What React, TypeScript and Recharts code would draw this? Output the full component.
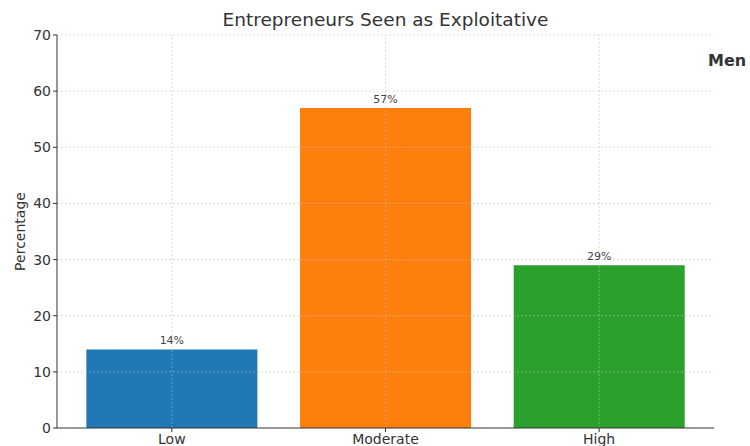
import { BarChart, Bar, XAxis, YAxis, LabelList, Cell, ReferenceLine } from 'recharts';

const categories = ['Low', 'Moderate', 'High'];
const percentages = [14, 57, 29];
const barColors = ['#1f77b4', '#ff7f0e', '#2ca02c'];
const yTicks = [0, 10, 20, 30, 40, 50, 60, 70];

const data = categories.map((name, i) => ({ name, value: percentages[i] }));

const font = '"DejaVu Sans", Verdana, sans-serif';
// translucent so the grid shows faintly over the bars, as in the original
const gridColor = 'rgba(190,190,190,0.55)';

export default function App() {
  return (
    <div style={{ position: 'absolute', left: 0, top: 0, width: 750, height: 446, background: '#fff', fontFamily: font }}>
      <div style={{ position: 'absolute', left: 0, width: 771, top: 9, textAlign: 'center', fontSize: 18.5, color: '#333', lineHeight: '22px' }}>
        Entrepreneurs Seen as Exploitative
      </div>
      <div style={{ position: 'absolute', left: 708, top: 51, fontSize: 16, fontWeight: 'bold', color: '#333', whiteSpace: 'nowrap' }}>
        Men
      </div>
      <BarChart
        width={750}
        height={446}
        data={data}
        margin={{ top: 35, right: 36, bottom: 0, left: 0 }}
        barCategoryGap="10%"
      >
        <XAxis
          dataKey="name"
          height={18}
          padding={{ left: 8, right: 8 }}
          tickSize={4}
          tickLine={{ stroke: '#333' }}
          axisLine={{ stroke: '#333' }}
          tick={{ fontSize: 14, fill: '#333', fontFamily: font }}
          interval={0}
        />
        <YAxis
          width={57}
          domain={[0, 70]}
          ticks={yTicks}
          tickSize={4}
          tickLine={{ stroke: '#333' }}
          axisLine={{ stroke: '#333' }}
          tick={{ fontSize: 14, fill: '#333', fontFamily: font }}
          label={{ value: 'Percentage', angle: -90, position: 'insideLeft', offset: 20, style: { textAnchor: 'middle', fontSize: 14, fill: '#333', fontFamily: font } }}
        />
        <Bar dataKey="value" isAnimationActive={false}>
          {data.map((d, i) => (
            <Cell key={d.name} fill={barColors[i]} />
          ))}
          <LabelList dataKey="value" position="top" offset={5} formatter={(v: any) => `${v}%`} style={{ fontSize: 11, fill: '#444', fontFamily: font }} />
        </Bar>
        {yTicks.filter((t) => t > 0).map((t) => (
          <ReferenceLine key={`y${t}`} y={t} stroke={gridColor} strokeDasharray="2 2" />
        ))}
        {categories.map((c) => (
          <ReferenceLine key={c} x={c} stroke={gridColor} strokeDasharray="2 2" />
        ))}
      </BarChart>
    </div>
  );
}
